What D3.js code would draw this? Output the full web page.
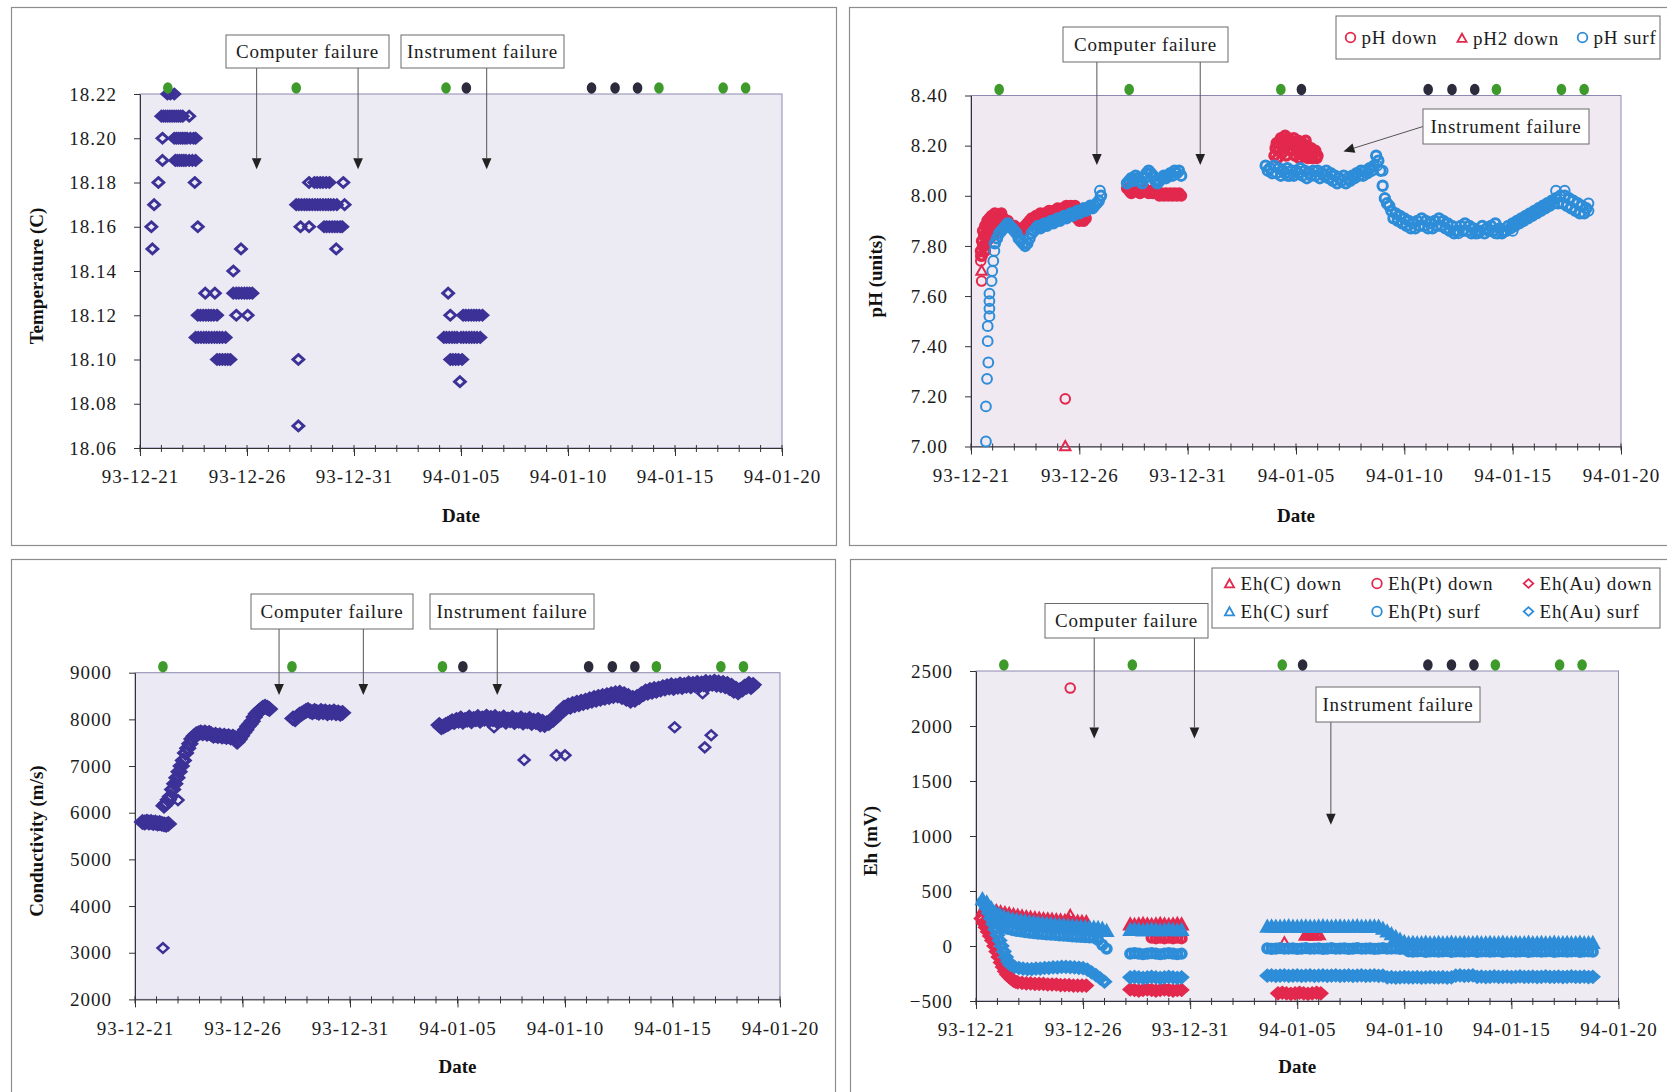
<!doctype html>
<html lang="en">
<head>
<meta charset="utf-8">
<title>Monitoring records 93-12-21 to 94-01-20</title>
<style>
body { margin: 0; background: #fff; }
svg { display: block; font-family: "Liberation Serif", "Times New Roman", serif; }
.axis text { font-size: 19px; letter-spacing: 1px; fill: #1b1b1b; font-family: "Liberation Serif", serif; }
.ttl { font-size: 19px; font-weight: bold; fill: #111; }
.note { font-size: 19px; letter-spacing: 0.8px; fill: #1b1b1b; }
</style>
</head>
<body>
<svg id="chart" width="1667" height="1092"></svg>
<script src="https://cdnjs.cloudflare.com/ajax/libs/d3/7.8.5/d3.min.js"></script>
<script>
// days counted from 93-12-21 00:00
var START = Date.UTC(1993, 11, 21);
var dayTicks = d3.range(0, 31);
var labelDays = d3.range(0, 31, 5);

// sampling events shown on top of each plot
var eventDays = [1.3, 7.3, 14.3, 15.25, 21.1, 22.2, 23.25, 24.25, 27.25, 28.3];
var eventKinds = ["g", "g", "g", "k", "k", "k", "k", "g", "g", "g"];

// temperature readings: [value, days at which it was read]
var temperature = [
  [18.22, [1.28, 1.42, 1.6]],
  [18.21, [1.0, 1.1, 1.2, 1.3, 1.4, 1.5, 1.6, 1.7, 1.8, 1.9, 2.0, 2.3]],
  [18.20, [1.05, 1.6, 1.7, 1.8, 1.9, 2.0, 2.1, 2.2, 2.35, 2.5, 2.6]],
  [18.19, [1.05, 1.65, 1.75, 1.85, 1.95, 2.05, 2.15, 2.3, 2.45, 2.6]],
  [18.18, [0.86, 2.56, 7.9, 8.15, 8.28, 8.42, 8.55, 8.7, 8.85, 9.5]],
  [18.17, [0.66, 7.3, 7.42, 7.55, 7.68, 7.8, 7.92, 8.05, 8.18, 8.3, 8.42, 8.55, 8.68, 8.8, 8.92, 9.05, 9.2, 9.56]],
  [18.16, [0.53, 2.7, 7.5, 7.9, 8.6, 8.72, 8.85, 8.98, 9.1, 9.22, 9.35, 9.45]],
  [18.15, [0.58, 4.72, 9.17]],
  [18.14, [4.36]],
  [18.13, [3.05, 3.5, 4.36, 4.5, 4.62, 4.75, 4.88, 5.0, 5.12, 5.25, 14.4]],
  [18.12, [2.7, 2.82, 2.95, 3.08, 3.2, 3.32, 3.45, 3.6, 4.5, 5.03, 14.5, 15.1, 15.22, 15.35, 15.48, 15.6, 15.72, 15.85, 16.0]],
  [18.11, [2.6, 2.72, 2.85, 2.98, 3.1, 3.22, 3.35, 3.48, 3.6, 3.72, 3.85, 4.0, 14.2, 14.32, 14.45, 14.58, 14.7, 14.82, 15.0, 15.12, 15.25, 15.38, 15.5, 15.62, 15.75, 15.9]],
  [18.10, [3.6, 3.72, 3.85, 3.98, 4.1, 4.22, 7.4, 14.5, 14.62, 14.75, 14.88, 15.05]],
  [18.09, [14.95]],
  [18.07, [7.4]]
];

// regularly logged series: [first day, step in days, readings]; step 0 = single readings
var conductivity = [
  [0.35, 0.1, [5800, 5790, 5810, 5790, 5800, 5780, 5790, 5770, 5780, 5760, 5750, 5740, 5760]],
  [1.35, 0.1, [6150, 6200, 6280, 6350, 6500, 6620, 6750, 6880, 7000, 7120, 7280, 7380, 7480, 7580, 7640, 7680, 7700, 7720, 7700, 7720,
               7690, 7710, 7680, 7650, 7670, 7640, 7660, 7630, 7650, 7620, 7640, 7610, 7630, 7600, 7520, 7580, 7650, 7720, 7780, 7850,
               7900, 7960, 8050, 8120, 8170, 8210, 8250, 8270, 8250, 8220]],
  [7.35, 0.1, [8020, 8000, 8060, 8100, 8120, 8150, 8180, 8200, 8170, 8150, 8180, 8160, 8140, 8180, 8150, 8170, 8130, 8160, 8140, 8170,
               8130, 8150, 8120, 8140]],
  [14.15, 0.2, [7880, 7850, 7900, 7960, 7990, 8020, 7990, 8040, 8010, 8050, 8020, 8060, 8030, 8050, 8010, 8040, 8000, 8030, 7990, 8020,
                7980, 8010, 7970, 7990, 7950, 7920, 7980, 8050, 8150, 8250, 8300, 8330, 8360, 8380, 8400, 8430, 8460, 8480, 8500, 8520,
                8540, 8560, 8570, 8540, 8500, 8460, 8480, 8540, 8600, 8630, 8650, 8660, 8690, 8710, 8730, 8720, 8750, 8740, 8770, 8760,
                8780, 8770, 8800, 8790, 8810, 8790, 8780, 8760, 8720, 8660, 8630, 8700, 8760, 8740]],
  [14.25, 0.2, [7830, 7880, 7930, 7940, 7970, 7950, 7990, 7960, 8000, 7970, 8010, 7980, 8000, 7960, 7990, 7950, 7980, 7940, 7970, 7930,
                7960, 7920, 7940, 7890, 7880, 7920, 7990, 8080, 8190, 8240, 8270, 8300, 8320, 8350, 8370, 8400, 8420, 8440, 8460, 8480,
                8500, 8510, 8480, 8440, 8400, 8420, 8480, 8540, 8570, 8590, 8610, 8640, 8660, 8680, 8670, 8700, 8690, 8720, 8710, 8730,
                8720, 8750, 8740, 8760, 8740, 8730, 8710, 8670, 8610, 8580, 8640, 8700, 8690]],
  [1.3, 0, [3100]], [2.0, 0, [6270]], [16.7, 0, [7830]], [18.1, 0, [7130]], [19.6, 0, [7230]], [20.0, 0, [7230]],
  [25.1, 0, [7830]], [26.4, 0, [8560]], [26.5, 0, [7400]], [26.8, 0, [7660]]
];

var phDown = [
  [0.49, 0, [7.66]], [0.45, 0, [7.74, 7.76]],
  [0.45, 0.05, [7.78, 7.82, 7.86, 7.80, 7.88, 7.84, 7.90, 7.86, 7.91, 7.88, 7.92]],
  [0.5, 0.05, [7.76, 7.80, 7.84, 7.78, 7.85, 7.82, 7.88, 7.83, 7.87, 7.84, 7.89, 7.85, 7.90, 7.86, 7.91, 7.88, 7.92, 7.89, 7.93, 7.90]],
  [1.0, 0.1, [7.89, 7.93, 7.91, 7.92, 7.90, 7.91, 7.89, 7.90, 7.88, 7.87, 7.88, 7.87, 7.86, 7.87, 7.86, 7.88, 7.89, 7.90, 7.91, 7.91,
              7.92, 7.92, 7.93, 7.92, 7.93, 7.93, 7.94, 7.93, 7.94, 7.94, 7.95, 7.94, 7.95, 7.95, 7.96, 7.95, 7.96, 7.95, 7.96, 7.91,
              7.90, 7.91, 7.90, 7.91]],
  [4.35, 0, [7.19]],
  [7.2, 0.1, [8.03, 8.02, 8.01, 8.02, 8.03, 8.02, 8.01, 8.02, 8.03, 8.02, 8.01, 8.02, 8.01, 8.02, 8.01, 8.00, 8.01, 8.00, 8.01, 8.00,
              8.01, 8.00, 8.01, 8.00, 8.01, 8.00]],
  [14.0, 0.1, [8.16, 8.21, 8.18, 8.23, 8.19, 8.24, 8.20, 8.22, 8.18, 8.23, 8.19, 8.22, 8.17, 8.21, 8.18, 8.20, 8.16, 8.19, 8.17, 8.18, 8.16]],
  [14.05, 0.1, [8.19, 8.15, 8.22, 8.17, 8.21, 8.16, 8.23, 8.18, 8.21, 8.16, 8.20, 8.15, 8.19, 8.16, 8.22, 8.15, 8.18, 8.15, 8.17, 8.15]]
];
var ph2Down = [[0.49, 0, [7.70]], [4.35, 0, [7.00]]];
var phSurf = [
  [0.69, 0, [7.02, 7.16]], [0.74, 0, [7.27]], [0.8, 0, [7.335]], [0.77, 0, [7.42, 7.48]], [0.85, 0, [7.52, 7.55, 7.58, 7.61]],
  [0.95, 0, [7.66]], [0.98, 0, [7.70]], [1.03, 0, [7.74]], [1.08, 0, [7.78]],
  [1.1, 0.1, [7.81, 7.83, 7.85, 7.86, 7.87, 7.88, 7.89, 7.88, 7.87, 7.86, 7.85, 7.83, 7.82, 7.81, 7.80, 7.81, 7.83, 7.85, 7.86, 7.87]],
  [3.1, 0.1, [7.88, 7.87, 7.88, 7.89, 7.88, 7.89, 7.90, 7.89, 7.90, 7.91, 7.90, 7.91, 7.92, 7.91, 7.92, 7.93, 7.92, 7.93, 7.94, 7.93,
              7.94, 7.95, 7.94, 7.95, 7.96, 7.95, 7.96, 7.97, 7.98, 8.00]],
  [5.95, 0, [8.02]],
  [7.2, 0.1, [8.05, 8.06, 8.07, 8.06, 8.08, 8.07, 8.06, 8.05, 8.07, 8.09, 8.10, 8.09, 8.08, 8.06, 8.05, 8.06, 8.07, 8.08, 8.07, 8.08,
              8.09, 8.08, 8.10, 8.09, 8.10, 8.08]],
  [13.6, 0.2, [8.12, 8.11, 8.12, 8.11, 8.10, 8.11, 8.10, 8.10, 8.11, 8.10, 8.09, 8.10, 8.10, 8.09, 8.10, 8.09, 8.08, 8.07, 8.08, 8.07,
               8.08, 8.09, 8.10, 8.10, 8.11, 8.12]],
  [13.7, 0.2, [8.10, 8.09, 8.09, 8.08, 8.09, 8.08, 8.08, 8.09, 8.08, 8.07, 8.08, 8.08, 8.07, 8.08, 8.07, 8.06, 8.05, 8.06, 8.05, 8.06,
               8.07, 8.08, 8.08, 8.09, 8.10]],
  [18.7, 0.1, [8.16, 8.14, 8.10, 8.04, 7.99, 7.97, 7.96]],
  [19.4, 0.2, [7.94, 7.93, 7.92, 7.91, 7.90, 7.89, 7.90, 7.91, 7.90, 7.89, 7.90, 7.91, 7.90, 7.89, 7.88, 7.86, 7.88, 7.89, 7.88, 7.87,
               7.86, 7.88, 7.87, 7.88, 7.89, 7.87, 7.86, 7.88, 7.89, 7.90, 7.91, 7.92, 7.93, 7.94, 7.95, 7.96, 7.97, 7.98, 7.99, 8.00,
               8.00, 7.99, 7.98, 7.97, 7.96, 7.95]],
  [19.5, 0.2, [7.91, 7.90, 7.89, 7.88, 7.87, 7.87, 7.88, 7.88, 7.87, 7.87, 7.88, 7.88, 7.87, 7.86, 7.85, 7.86, 7.86, 7.86, 7.85, 7.85,
               7.86, 7.85, 7.86, 7.86, 7.85, 7.85, 7.86, 7.87, 7.88, 7.89, 7.90, 7.91, 7.92, 7.93, 7.94, 7.95, 7.96, 7.97, 7.97, 7.97,
               7.96, 7.95, 7.94, 7.93, 7.93]],
  [28.5, 0, [7.97, 7.94]], [14.6, 0, [8.08]], [16.4, 0, [8.08]], [22.5, 0, [7.85]], [23.4, 0, [7.85]], [24.2, 0, [7.85]],
  [25.0, 0, [7.86]], [27.0, 0, [8.02]], [27.4, 0, [8.02]], [18.75, 0, [8.12]], [19.0, 0, [8.10]]
];

var ehCDown = [
  [0.35, 0.2, [330, 325, 318, 310, 300, 292, 284, 276, 268, 262, 256, 250, 246, 242, 238, 235, 232, 228, 225, 222, 218, 216, 214, 212, 210]],
  [4.4, 0, [290]],
  [7.2, 0.2, [190, 185, 190, 195, 190, 185, 190, 195, 190, 185, 190, 195, 190]],
  [14.4, 0, [42]],
  [15.4, 0.2, [96, 100, 96, 100]]
];
var ehPtDown = [
  [4.4, 0, [2345]],
  [8.2, 0.2, [75, 70, 75, 70, 75, 70, 75, 70]]
];
var ehAuDown = [
  [0.25, 0.1, [250, 210, 170, 130, 90, 50, 0, -50, -100, -150, -190, -230, -260, -280, -300, -315, -325]],
  [1.95, 0.2, [-330, -335, -340, -340, -345, -345, -345, -350, -350, -350, -355, -355, -355, -360, -360, -360, -360]],
  [7.2, 0.2, [-395, -400, -405, -400, -395, -400, -405, -400, -395, -400, -405, -400, -400]],
  [14.1, 0.2, [-430, -425, -430, -435, -430, -425, -430, -435, -430, -425, -430]]
];
var ehCSurf = [
  [0.3, 0.2, [420, 390, 340, 300, 280, 260, 248, 238, 230, 224, 218, 212, 207, 203, 199, 195, 191, 187, 184, 181,
              178, 175, 172, 169, 166, 163, 160, 157, 150, 130]],
  [7.2, 0.2, [140, 145, 140, 135, 140, 145, 140, 135, 140, 145, 140, 135, 140]],
  [13.6, 0.2, [170, 172, 170, 168, 171, 173, 170, 168, 171, 172, 170, 169, 171, 173, 170, 168, 171, 172, 170, 169,
               171, 173, 170, 168, 171, 172, 170]],
  [19.0, 0.2, [150, 125, 100, 75, 50, 30]],
  [20.2, 0.2, [20, 22, 18, 20, 23, 19, 20, 22, 18, 20, 23, 19, 20, 22, 18, 20, 23, 19, 20, 22, 18, 20,
               23, 19, 20, 22, 18, 20, 23, 19, 20, 22, 18, 20, 23, 19, 20, 22, 18, 20, 23, 19, 20, 22]]
];
var ehPtSurf = [
  [0.3, 0.2, [400, 350, 290, 230, 195, 170, 155, 145, 138, 132, 126, 121, 117, 113, 110, 106, 103, 100, 97, 94,
              91, 88, 85, 82, 80, 78, 75, 55, 10, -25]],
  [7.2, 0.2, [-70, -65, -70, -75, -70, -65, -70, -75, -70, -65, -70, -75, -70]],
  [13.6, 0.2, [-22, -26, -24, -20, -25, -23, -22, -26, -24, -20, -25, -23, -22, -26, -24, -20, -25, -23, -22, -26, -24, -20,
               -25, -23, -22, -26, -24, -20, -25, -23, -22, -26, -24,
               -48, -52, -50, -46, -53, -50, -48, -52, -50, -46, -53, -50, -48, -52, -50, -46, -53, -50, -48, -52, -50, -46,
               -53, -50, -48, -52, -50, -46, -53, -50, -48, -52, -50, -46, -53, -50, -48, -52, -50, -46, -53, -50, -48, -52]]
];
var ehAuSurf = [
  [0.4, 0.1, [380, 340, 300, 250, 200, 150, 100, 50, 0, -50, -100, -140, -170]],
  [1.8, 0.2, [-190, -200, -205, -210, -210, -205, -205, -200, -200, -195, -195, -190, -190, -192, -195, -198, -202, -215, -240, -265, -295, -325]],
  [7.2, 0.2, [-285, -280, -285, -290, -285, -280, -285, -290, -285, -280, -285, -290, -285]],
  [13.6, 0.2, [-270, -268, -272, -270, -267, -271, -270, -268, -272, -270, -267, -271, -270, -268, -272, -270, -267, -271, -270, -268,
               -272, -270, -267, -271, -270, -268, -272, -270,
               -285, -283, -287, -285, -282, -286, -285, -283, -287, -285, -282, -286, -285, -283, -287, -285,
               -270, -268, -272, -270, -268,
               -280, -278, -282, -280, -277, -281, -280, -278, -282, -280, -277, -281, -280, -278, -282, -280, -277, -281, -280, -278,
               -282, -280, -277, -281, -280, -278, -282, -280]]
];

var RED = "#e3284d", BLUE = "#2e8dd8", INDIGO = "#3b3196";

var svg = d3.select("#chart");

function toDate(d) { return new Date(START + d * 864e5); }

// runs -> [day, value, dense?]
function expand(runs) {
  var out = [];
  runs.forEach(function(r) {
    r[2].forEach(function(v, i) { out.push([r[0] + i * r[1], v, r[1] > 0]); });
  });
  return out;
}

function shapePath(shape, r) {
  if (shape == "diamond") return "M0," + (-r * 0.9) + "L" + r + ",0L0," + (r * 0.9) + "L" + (-r) + ",0Z";
  if (shape == "triangle") return "M0," + (-r) + "L" + (r * 0.95) + "," + (r * 0.7) + "L" + (-r * 0.95) + "," + (r * 0.7) + "Z";
  return "M" + r + ",0A" + r + "," + r + " 0 1,1 " + (-r) + ",0A" + r + "," + r + " 0 1,1 " + r + ",0Z";
}

function drawPanel(p) {
  var f = p.frame, b = p.plot;
  svg.append("rect").attr("x", f[0]).attr("y", f[1]).attr("width", f[2]).attr("height", f[3])
    .attr("fill", "none").attr("stroke", "#8d8d8d").attr("stroke-width", 1.2);

  var x = d3.scaleUtc().domain([toDate(0), toDate(30)]).range([b[0], b[2]]);
  var y = d3.scaleLinear().domain(p.yDomain).range([b[3], b[1]]);

  svg.append("rect").attr("x", b[0]).attr("y", b[1]).attr("width", b[2] - b[0]).attr("height", b[3] - b[1])
    .attr("fill", p.bg).attr("stroke", "#8e89b0").attr("stroke-width", 1);

  // y axis
  svg.append("g").attr("class", "axis").attr("transform", "translate(" + b[0] + ",0)")
    .style("color", "#333")
    .call(d3.axisLeft(y).tickValues(p.yTicks).tickFormat(d3.format(p.fmt)).tickSize(6).tickPadding(17).tickSizeOuter(0));

  // x axis: labelled every five days, small marks every day
  var xa = svg.append("g").attr("class", "axis").attr("transform", "translate(0," + b[3] + ")")
    .style("color", "#333")
    .call(d3.axisBottom(x).tickValues(labelDays.map(toDate)).tickFormat(d3.utcFormat("%y-%m-%d"))
      .tickSize(8).tickPadding(14).tickSizeOuter(0));
  xa.selectAll(".minor").data(dayTicks).join("line").attr("class", "minor")
    .attr("x1", function(d) { return x(toDate(d)); }).attr("x2", function(d) { return x(toDate(d)); })
    .attr("y1", -3).attr("y2", 4).attr("stroke", "#333");

  svg.append("text").attr("class", "ttl").attr("text-anchor", "middle")
    .attr("x", (b[0] + b[2]) / 2).attr("y", p.dateY).text("Date");
  svg.append("text").attr("class", "ttl").attr("text-anchor", "middle")
    .attr("transform", "translate(" + p.titleX + "," + ((b[1] + b[3]) / 2 + 5) + ") rotate(-90)")
    .text(p.title);

  // data: logged runs overlap into solid bands, single readings stay open
  p.series.forEach(function(s) {
    svg.append("g").selectAll("path").data(s.points).join("path")
      .attr("transform", function(d) { return "translate(" + x(toDate(d[0])) + "," + y(d[1]) + ")"; })
      .attr("d", function(d) { return shapePath(s.shape, d[2] ? s.rD : s.r); })
      .attr("fill", "none").attr("stroke", s.color)
      .attr("stroke-width", function(d) { return d[2] ? s.swD : s.sw; });
  });

  // event dots above the plot
  svg.append("g").selectAll("ellipse").data(eventDays).join("ellipse")
    .attr("cx", function(d) { return x(toDate(d)); }).attr("cy", b[1] - 6)
    .attr("rx", 4.8).attr("ry", 5.8)
    .attr("fill", function(d, i) { return eventKinds[i] == "g" ? "#3f9a2c" : "#2b2b3b"; });

  // annotation boxes with arrows
  p.notes.forEach(function(n) {
    var bx = n.box;
    n.tips.forEach(function(t) {
      var tx = x(toDate(t[0])), ty = y(t[1]);
      var sx = n.from ? n.from[0] : tx, sy = n.from ? n.from[1] : bx[1] + bx[3];
      var a = Math.atan2(ty - sy, tx - sx), L = 11, W = 4.8;
      var bxp = tx - L * Math.cos(a), byp = ty - L * Math.sin(a);
      svg.append("line").attr("x1", sx).attr("y1", sy).attr("x2", bxp).attr("y2", byp)
        .attr("stroke", "#555").attr("stroke-width", 1);
      svg.append("path")
        .attr("d", "M" + tx + "," + ty + "L" + (bxp - W * Math.sin(a)) + "," + (byp + W * Math.cos(a)) +
          "L" + (bxp + W * Math.sin(a)) + "," + (byp - W * Math.cos(a)) + "Z")
        .attr("fill", "#222");
    });
    svg.append("rect").attr("x", bx[0]).attr("y", bx[1]).attr("width", bx[2]).attr("height", bx[3])
      .attr("fill", "#fff").attr("stroke", "#6a6a6a").attr("stroke-width", 1);
    svg.append("text").attr("class", "note").attr("text-anchor", "middle")
      .attr("x", bx[0] + bx[2] / 2).attr("y", bx[1] + bx[3] / 2 + 6.5).text(n.text);
  });

  if (p.legend) {
    var lg = p.legend;
    svg.append("rect").attr("x", lg.box[0]).attr("y", lg.box[1]).attr("width", lg.box[2]).attr("height", lg.box[3])
      .attr("fill", "#fff").attr("stroke", "#6a6a6a").attr("stroke-width", 1);
    lg.items.forEach(function(it) {
      svg.append("path").attr("transform", "translate(" + it.x + "," + it.y + ")")
        .attr("d", shapePath(it.shape, 4.8)).attr("fill", "none").attr("stroke", it.color).attr("stroke-width", 1.8);
      svg.append("text").attr("class", "note").attr("x", it.x + 11).attr("y", it.y + 6).text(it.label);
    });
  }
}

var tempPoints = [];
temperature.forEach(function(row) { row[1].forEach(function(d) { tempPoints.push([d, row[0], false]); }); });

var panels = [
  {
    frame: [11.5, 7.5, 825, 538], plot: [140, 94, 782, 448], bg: "#eceaf3",
    yDomain: [18.06, 18.22], yTicks: d3.range(0, 9).map(function(i) { return 18.06 + i * 0.02; }), fmt: ".2f",
    title: "Temperature (C)", titleX: 43, dateY: 522,
    series: [{ points: tempPoints, shape: "diamond", r: 5.4, sw: 2.9, rD: 5.4, swD: 2.9, color: INDIGO }],
    notes: [
      { text: "Computer failure", box: [226, 35, 163, 33], tips: [[5.45, 18.186], [10.19, 18.186]] },
      { text: "Instrument failure", box: [401, 35, 163, 33], tips: [[16.2, 18.186]] }
    ]
  },
  {
    frame: [849.5, 7.5, 830, 538], plot: [971, 95.5, 1621, 446.5], bg: "#f0e9f2",
    yDomain: [7.0, 8.4], yTicks: d3.range(0, 8).map(function(i) { return 7 + i * 0.2; }), fmt: ".2f",
    title: "pH (units)", titleX: 882, dateY: 522,
    series: [
      { points: expand(phDown), shape: "circle", r: 4.8, sw: 2, rD: 4.3, swD: 3.5, color: RED },
      { points: expand(ph2Down), shape: "triangle", r: 5.5, sw: 2, rD: 5.5, swD: 2, color: RED },
      { points: expand(phSurf), shape: "circle", r: 4.9, sw: 2, rD: 4.7, swD: 3, color: BLUE }
    ],
    notes: [
      { text: "Computer failure", box: [1063, 27, 165, 35], tips: [[5.81, 8.123], [10.58, 8.123]] },
      { text: "Instrument failure", box: [1423, 109, 166, 35], from: [1423, 126.5], tips: [[17.19, 8.177]] }
    ],
    legend: {
      box: [1336, 16, 324, 43],
      items: [
        { label: "pH down", shape: "circle", color: RED, x: 1350.5, y: 37.5 },
        { label: "pH2 down", shape: "triangle", color: RED, x: 1462, y: 38.5 },
        { label: "pH surf", shape: "circle", color: BLUE, x: 1582.5, y: 37.5 }
      ]
    }
  },
  {
    frame: [11.5, 559.5, 824, 540], plot: [135, 672.7, 780, 999.4], bg: "#ebe9f3",
    yDomain: [2000, 9000], yTicks: d3.range(2000, 9001, 1000), fmt: "d",
    title: "Conductivity (m/s)", titleX: 43, dateY: 1073,
    series: [{ points: expand(conductivity), shape: "diamond", r: 5.4, sw: 2.5, rD: 6.4, swD: 3.6, color: INDIGO }],
    notes: [
      { text: "Computer failure", box: [251, 594, 162, 35], tips: [[6.7, 8522], [10.62, 8522]] },
      { text: "Instrument failure", box: [430, 594, 164, 35], tips: [[16.85, 8522]] }
    ]
  },
  {
    frame: [850.5, 559.5, 830, 540], plot: [976, 671, 1618.5, 1001], bg: "#eeebf3",
    yDomain: [-500, 2500], yTicks: d3.range(-500, 2501, 500), fmt: "d",
    title: "Eh (mV)", titleX: 877, dateY: 1073,
    series: [
      { points: expand(ehCDown), shape: "triangle", r: 4.2, sw: 2, rD: 4.8, swD: 4, color: RED },
      { points: expand(ehPtDown), shape: "circle", r: 4.8, sw: 2, rD: 4.2, swD: 3.8, color: RED },
      { points: expand(ehAuDown), shape: "diamond", r: 4.5, sw: 2, rD: 5.2, swD: 4, color: RED },
      { points: expand(ehCSurf), shape: "triangle", r: 4.2, sw: 2, rD: 4.8, swD: 4, color: BLUE },
      { points: expand(ehPtSurf), shape: "circle", r: 4.5, sw: 2, rD: 4.2, swD: 3.8, color: BLUE },
      { points: expand(ehAuSurf), shape: "diamond", r: 4.5, sw: 2, rD: 5.2, swD: 4, color: BLUE }
    ],
    notes: [
      { text: "Computer failure", box: [1045, 603.5, 163, 34.5], tips: [[5.52, 1887], [10.2, 1887]] },
      { text: "Instrument failure", box: [1316, 687, 164, 35], tips: [[16.57, 1102]] }
    ],
    legend: {
      box: [1212, 568, 448, 60],
      items: [
        { label: "Eh(C) down", shape: "triangle", color: RED, x: 1229.5, y: 584 },
        { label: "Eh(Pt) down", shape: "circle", color: RED, x: 1377, y: 583.5 },
        { label: "Eh(Au) down", shape: "diamond", color: RED, x: 1528.5, y: 583.5 },
        { label: "Eh(C) surf", shape: "triangle", color: BLUE, x: 1229.5, y: 612 },
        { label: "Eh(Pt) surf", shape: "circle", color: BLUE, x: 1377, y: 611.5 },
        { label: "Eh(Au) surf", shape: "diamond", color: BLUE, x: 1528.5, y: 611.5 }
      ]
    }
  }
];

panels.forEach(drawPanel);
</script>
</body>
</html>
